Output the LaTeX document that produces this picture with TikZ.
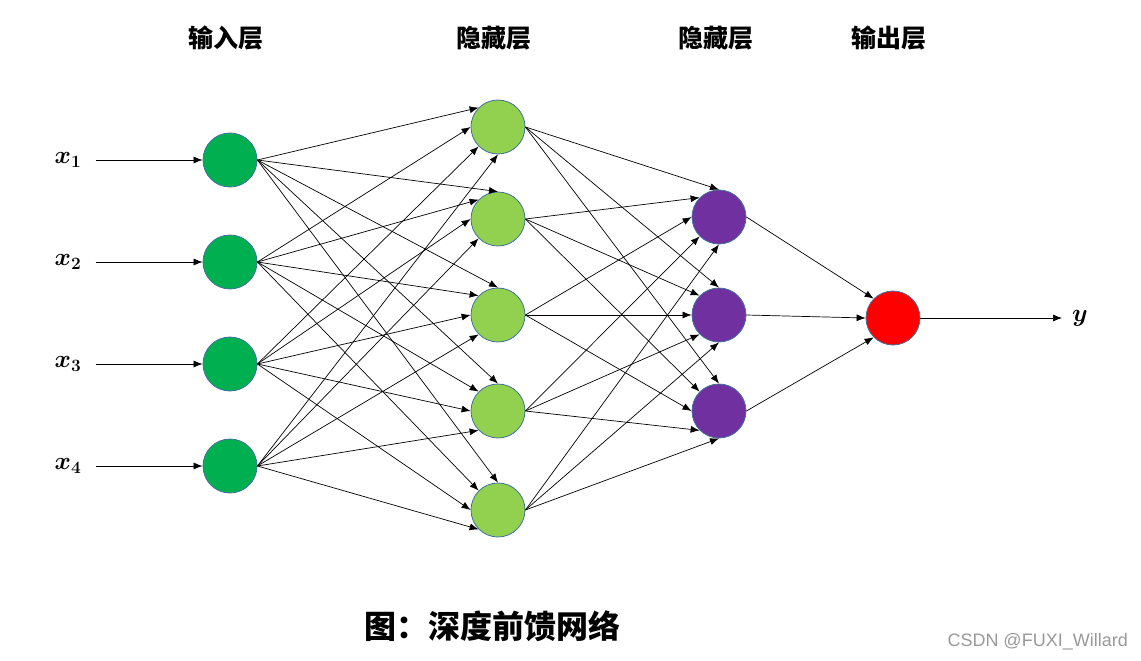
\documentclass[tikz,border=0pt]{standalone}
\usepackage{fontspec}
\usepackage{amsmath,bm}
\usepackage{xcolor}
\usepackage{tikz}
\usetikzlibrary{positioning,arrows.meta}
\newfontfamily\cjk{Noto Sans CJK SC}
\newfontfamily\wmfont{Liberation Sans}
\definecolor{inGreen}{HTML}{00B050}
\definecolor{hidGreen}{HTML}{92D050}
\definecolor{hidPurple}{HTML}{7030A0}
\definecolor{outRed}{HTML}{FF0000}
\definecolor{rimBlue}{HTML}{41719C}
\tikzset{
  neuron/.style={circle,draw=rimBlue,line width=0.8pt,minimum size=54pt,inner sep=0pt},
  arr/.style={-{Latex[length=9pt,width=7pt]},line width=0.7pt},
  xlab/.style={inner sep=0pt,font=\fontsize{26}{30}\selectfont},
  head/.style={font=\cjk\bfseries\fontsize{25}{29}\selectfont}
}

\begin{document}
\begin{tikzpicture}[x=1pt,y=-1pt]
\useasboundingbox (0,0) rectangle (1141,661);
% input layer
\foreach \i/\y in {1/160,2/262,3/364,4/466}{
  \node[neuron,fill=inGreen] (in\i) at (230,\y) {};
  \node[xlab] (lx\i) at (68,\y) {$\bm{x}_{\bm{\i}}$};
}
% hidden layers and output
\foreach \i/\y in {1/127,2/219,3/315,4/411,5/510}
  \node[neuron,fill=hidGreen] (ha\i) at (498,\y) {};
\foreach \i/\y in {1/217,2/315,3/411}
  \node[neuron,fill=hidPurple] (hb\i) at (719,\y) {};
\node[neuron,fill=outRed] (out) at (893,318) {};
\node[xlab] (ly) at (1080,318) {$\bm{y}$};
% titles
\node[head] (t1) at (226,38) {输入层};
\node[head] (t2) at (494,38) {隐藏层};
\node[head] (t3) at (716,38) {隐藏层};
\node[head] (t4) at (889,38) {输出层};
\node[font=\cjk\bfseries\fontsize{32}{36}\selectfont] (cap) at (492,626) {图：深度前馈网络};
\node[font=\wmfont\fontsize{18}{21}\selectfont,text=black!40,anchor=east,inner sep=0pt] (wm) at (1128,642) {CSDN @FUXI\_Willard};
% connections (east side out, fixed sites in)
\foreach \i in {1,...,4}{
  \draw[arr,shorten <=14pt] (lx\i) -- (in\i);
  \foreach \j in {1,...,5}{
    \pgfmathtruncatemacro\ang{\j==1 ? 90+45*\i : 45+45*\i}
    \draw[arr] (in\i.east) -- (ha\j.\ang);
  }
}
\foreach \i in {1,...,5}{
  \pgfmathtruncatemacro\ang{45+45*\i}
  \foreach \j in {1,2,3}
    \draw[arr] (ha\i.east) -- (hb\j.\ang);
}
\foreach \j in {1,2,3}{
  \pgfmathtruncatemacro\ang{90+45*\j}
  \draw[arr] (hb\j.east) -- (out.\ang);
}
\draw[arr,shorten >=10pt] (out.east) -- (ly);
\end{tikzpicture}
\end{document}
